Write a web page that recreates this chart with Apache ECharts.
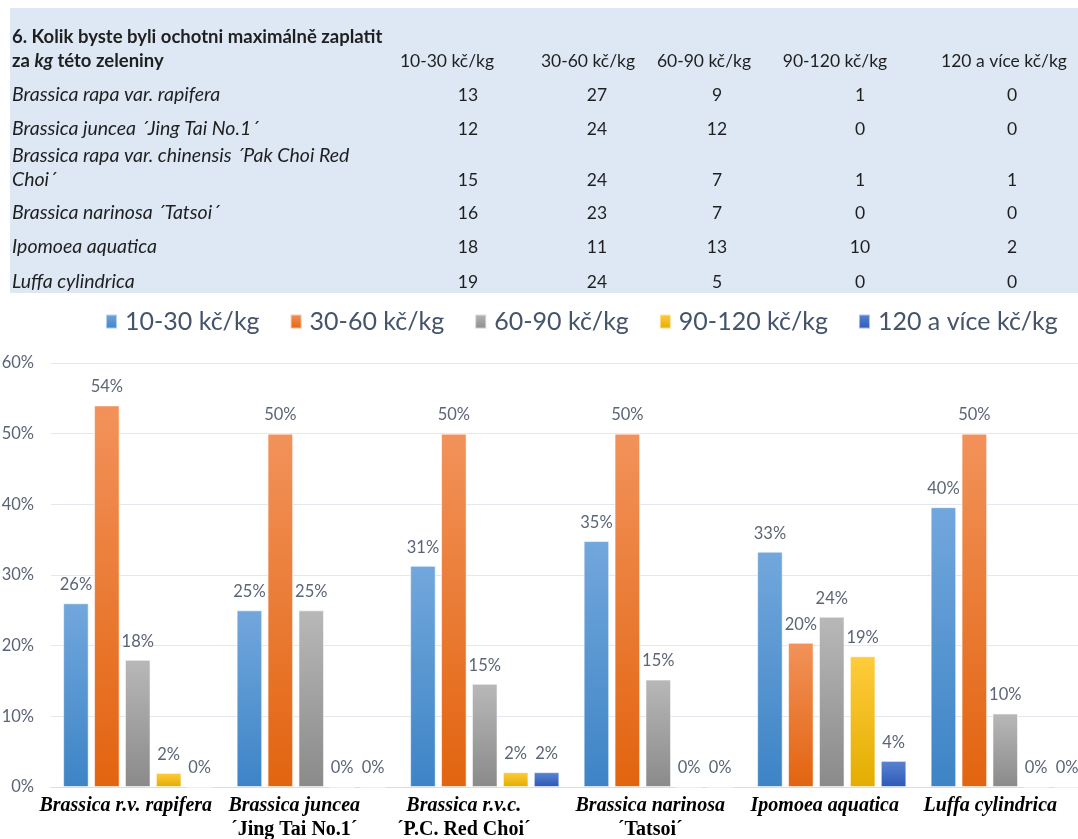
<!DOCTYPE html>
<html>
<head>
<meta charset="utf-8">
<script src="https://cdn.jsdelivr.net/npm/echarts@6/dist/echarts.min.js"></script>
<style>
  html, body { margin: 0; padding: 0; background: #ffffff; }
  #chart { width: 1078px; height: 839px; }
</style>
</head>
<body>
<div id="chart"></div>
<script>
// Price bands offered in the survey question
const priceBands = ['10-30 kč/kg', '30-60 kč/kg', '60-90 kč/kg', '90-120 kč/kg', '120 a více kč/kg'];

// Vegetables as named in the answer table
const tableNames = [
  'Brassica rapa var. rapifera',
  'Brassica juncea ´Jing Tai No.1´',
  'Brassica rapa var. chinensis ´Pak Choi Red\nChoi´',
  'Brassica narinosa ´Tatsoi´',
  'Ipomoea aquatica',
  'Luffa cylindrica'
];

// Shortened names under the bar groups
const axisCategories = [
  'Brassica r.v. rapifera',
  'Brassica juncea\n´Jing Tai No.1´',
  'Brassica r.v.c.\n´P.C. Red Choi´',
  'Brassica narinosa\n´Tatsoi´',
  'Ipomoea aquatica',
  'Luffa cylindrica'
];

// Number of respondents per price band
const count10to30 = [13, 12, 15, 16, 18, 19];
const count30to60 = [27, 24, 24, 23, 11, 24];
const count60to90 = [9, 12, 7, 7, 13, 5];
const count90to120 = [1, 0, 1, 0, 10, 0];
const count120plus = [0, 0, 1, 0, 2, 0];

// Share of respondents per price band (%)
const share10to30 = [26, 25, 31.3, 34.8, 33.3, 39.6];
const share30to60 = [54, 50, 50, 50, 20.4, 50];
const share60to90 = [18, 25, 14.6, 15.2, 24.1, 10.4];
const share90to120 = [2, 0, 2.1, 0, 18.5, 0];
const share120plus = [0, 0, 2.1, 0, 3.7, 0];

// Y axis ticks (%)
const yTicks = [0, 10, 20, 30, 40, 50, 60];

const tableCounts = [count10to30, count30to60, count60to90, count90to120, count120plus];
const shares = [share10to30, share30to60, share60to90, share90to120, share120plus];

// ---- table layout ----
const tableFont = 'Lato';
const tableColor = '#1f1f1f';
const headerCenters = [447, 588, 704, 835, 1004];
const numberCenters = [468, 597, 717, 860, 1012];
const rowBaselines = [95, 129, 180, 213, 247, 282];

// horizontal nudge (px, leftwards) of each group name under the axis
const groupLabelNudge = [12, 17, 21, 8, 7, 15];

const graphics = [
  { type: 'rect', shape: { x: 10, y: 8, width: 1068, height: 285 }, style: { fill: '#DDE8F4' }, silent: true },
  {
    type: 'text', x: 12, y: 37,
    style: {
      text: '6. Kolik byste byli ochotni maximálně zaplatit',
      font: 'bold 18.5px ' + tableFont, fill: tableColor,
      textAlign: 'left', textVerticalAlign: 'middle', align: 'left', verticalAlign: 'middle'
    }
  },
  {
    type: 'text', x: 12, y: 61,
    style: {
      text: 'za {i|kg} této zeleniny',
      font: 'bold 18.5px ' + tableFont, fill: tableColor,
      textAlign: 'left', textVerticalAlign: 'middle', align: 'left', verticalAlign: 'middle',
      rich: { i: { font: 'italic bold 18.5px ' + tableFont, fill: tableColor } }
    }
  }
];

priceBands.forEach((band, c) => {
  graphics.push({
    type: 'text', x: headerCenters[c], y: 61,
    style: {
      text: band, font: '17.5px ' + tableFont, fill: tableColor,
      textAlign: 'center', textVerticalAlign: 'middle', align: 'center', verticalAlign: 'middle'
    }
  });
});

tableNames.forEach((name, r) => {
  graphics.push({
    type: 'text', x: 12, y: rowBaselines[r] + 12,
    style: {
      text: name, font: 'italic 19.5px ' + tableFont, fill: tableColor, lineHeight: 24,
      textAlign: 'left', textVerticalAlign: 'bottom', align: 'left', verticalAlign: 'bottom'
    }
  });
  tableCounts.forEach((col, c) => {
    graphics.push({
      type: 'text', x: numberCenters[c], y: rowBaselines[r],
      style: {
        text: String(col[r]), font: '17.5px ' + tableFont, fill: tableColor,
        textAlign: 'center', textVerticalAlign: 'middle', align: 'center', verticalAlign: 'middle'
      }
    });
  });
});

// ---- bar colours (top, bottom of each bar) ----
const barColors = [
  ['#72A7DC', '#3D84C6'],
  ['#F2925A', '#E2640F'],
  ['#B8B8B8', '#8A8A8A'],
  ['#FFCC3C', '#E3AD00'],
  ['#5A84D2', '#2C59B8']
];

// rich styles for the group names: italic species line, upright cultivar line
const groupRich = {};
groupLabelNudge.forEach((n, i) => {
  const base = { fontFamily: 'Liberation Serif', fontWeight: 'bold', fontSize: 20, color: '#000', lineHeight: 24, padding: [0, 2 * n, 0, 0] };
  groupRich['a' + i] = Object.assign({}, base, { fontStyle: 'italic' });
  groupRich['b' + i] = Object.assign({}, base, { fontStyle: 'normal' });
});

const chart = echarts.init(document.getElementById('chart'), null, { renderer: 'canvas' });

const series = priceBands.map((band, i) => ({
  name: band,
  type: 'bar',
  data: shares[i],
  barGap: '21%',
  barCategoryGap: '14%',
  itemStyle: {
    color: new echarts.graphic.LinearGradient(0, 0, 0, 1, [
      { offset: 0, color: barColors[i][0] },
      { offset: 1, color: barColors[i][1] }
    ]),
    borderColor: 'rgba(255,255,255,0.55)',
    borderWidth: 1
  },
  label: {
    show: true,
    position: 'top',
    distance: 10,
    formatter: p => Math.round(p.value) + '%',
    color: '#5B6577',
    fontFamily: tableFont,
    fontSize: 16.5
  },
  emphasis: { disabled: true }
}));

chart.setOption({
  backgroundColor: '#ffffff',
  animation: false,
  graphic: graphics,
  legend: {
    top: 304,
    left: 100,
    icon: 'rect',
    itemWidth: 11,
    itemHeight: 14,
    itemGap: 30,
    textStyle: { fontFamily: tableFont, fontSize: 25, color: '#44546A', padding: [0, 0, 0, 3] },
    data: priceBands
  },
  grid: { left: 51, top: 363, width: 1041, height: 424, containLabel: false, outerBoundsMode: 'none' },
  xAxis: {
    type: 'category',
    data: axisCategories,
    axisTick: { show: false },
    axisLine: { lineStyle: { color: '#D9DEE5' } },
    axisLabel: {
      interval: 0,
      margin: 7,
      formatter: (v, idx) => {
        const parts = v.split('\n');
        return parts.map((p, k) => '{' + (k === 0 ? 'a' : 'b') + idx + '|' + p + '}').join('\n');
      },
      rich: groupRich
    }
  },
  yAxis: {
    type: 'value',
    min: yTicks[0],
    max: yTicks[yTicks.length - 1],
    interval: yTicks[1] - yTicks[0],
    axisLine: { show: false },
    axisTick: { show: false },
    splitLine: { lineStyle: { color: '#E3E8EE', width: 1 } },
    axisLabel: {
      margin: 17,
      formatter: '{value}%',
      color: '#5A6377',
      fontFamily: tableFont,
      fontSize: 16.5
    }
  },
  series: series
});
</script>
</body>
</html>
